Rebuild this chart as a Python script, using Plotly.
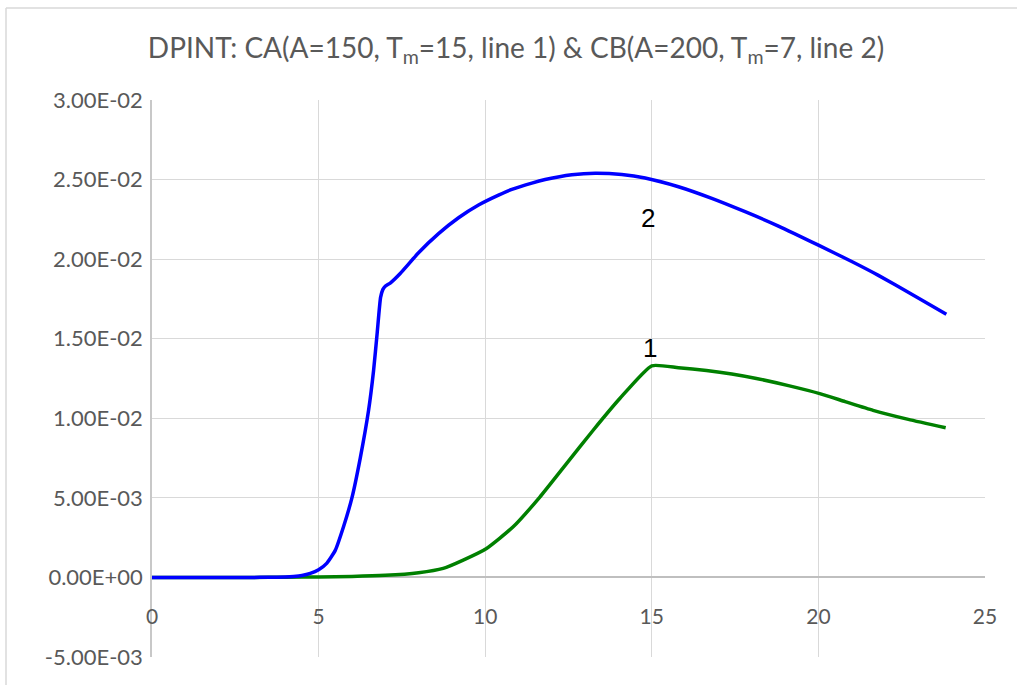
import plotly.graph_objects as go

# Line 2 (CB): time and DPINT values
t_cb = [0, 1, 2, 3, 3.5, 4, 4.25, 4.5, 4.75, 5.0, 5.25, 5.5, 5.75, 6.0, 6.25, 6.5,
        6.65, 6.76, 6.86, 6.93, 7.0, 7.15, 7.45, 8.0, 8.6, 9.2, 9.8, 10.4, 10.8,
        11.4, 11.8, 12.6, 13.3, 14.1, 14.8, 15.8, 16.8, 17.8, 18.8, 20.0, 21.0,
        21.8, 22.8, 23.84]
dp_cb = [0, 0, 0, 0, 0.00001, 0.00003, 0.00006, 0.00012, 0.00025, 0.00048, 0.0009,
         0.0017, 0.0032, 0.0050, 0.0075, 0.0105, 0.0130, 0.0154, 0.0176, 0.0181,
         0.0183, 0.0185, 0.0191, 0.0204, 0.0216, 0.0226, 0.0234, 0.02402, 0.02438,
         0.02478, 0.0250, 0.0253, 0.0254, 0.02532, 0.0251, 0.02455, 0.02382,
         0.02298, 0.02208, 0.02088, 0.01985, 0.01898, 0.01780, 0.01654]

# Line 1 (CA): time and DPINT values
t_ca = [0, 1, 2, 3, 4, 5, 6, 7, 8, 8.74, 9.34, 10.04, 10.84, 11.64, 12.44, 13.24,
        14.04, 15.0, 15.8, 16.64, 17.4, 18.14, 19.1, 20.04, 20.8, 21.64, 22.7, 23.82]
dp_ca = [0, 0, 0, 0, 0.00001, 0.00003, 0.00006, 0.00013, 0.00030, 0.00057, 0.00109,
         0.00182, 0.00318, 0.00505, 0.00715, 0.00925, 0.01124, 0.0133, 0.01318,
         0.0130, 0.01278, 0.0125, 0.01205, 0.01155, 0.01105, 0.0105, 0.00993, 0.0094]

x_ticks = [0, 5, 10, 15, 20, 25]
y_ticks = [-0.005, 0, 0.005, 0.01, 0.015, 0.02, 0.025, 0.03]
y_tick_text = ["-5.00E-03", "0.00E+00", "5.00E-03", "1.00E-02", "1.50E-02",
               "2.00E-02", "2.50E-02", "3.00E-02"]

# curve labels: (x, y, text)
curve_labels = [(14.88, 0.02258, "2"), (14.96, 0.0144, "1")]

title_text = ("DPINT: CA(A=150, T<sub>m</sub>=15, line 1) &amp; "
              "CB(A=200, T<sub>m</sub>=7, line 2)")

gray = "#595959"
grid = "#D9D9D9"

fig = go.Figure()
fig.add_trace(go.Scatter(x=t_ca, y=dp_ca, mode="lines",
                         line=dict(color="#008000", width=3.5, shape="spline",
                                   smoothing=0.5), name="1"))
fig.add_trace(go.Scatter(x=t_cb, y=dp_cb, mode="lines",
                         line=dict(color="#0000FF", width=3.5, shape="spline",
                                   smoothing=0.5), name="2"))

for x, y, txt in curve_labels:
    fig.add_annotation(x=x, y=y, text=txt, showarrow=False,
                       font=dict(family="Liberation Sans, Arial", size=26, color="black"))

# outer chart frame (top and left edges)
frame_left = (6 - 152) / 833
frame_top = (657 - 8) / 557
fig.add_shape(type="line", xref="paper", yref="paper",
              x0=frame_left, x1=1.2, y0=frame_top, y1=frame_top,
              line=dict(color=grid, width=1.5))
fig.add_shape(type="line", xref="paper", yref="paper",
              x0=frame_left, x1=frame_left, y0=frame_top, y1=-0.2,
              line=dict(color=grid, width=1.5))

fig.update_layout(
    width=1017, height=685,
    margin=dict(l=152, r=32, t=100, b=28),
    paper_bgcolor="white", plot_bgcolor="white",
    showlegend=False,
    title=dict(text=title_text, x=516 / 1017, xanchor="center",
               y=1 - 48 / 685, yanchor="middle",
               font=dict(family="Lato", size=28, color=gray)),
    xaxis=dict(range=[0, 25], tickvals=x_ticks, showgrid=True, gridcolor=grid,
               gridwidth=1.3, zeroline=False, showline=False,
               anchor="free", position=80 / 557,
               ticks="", ticklabelstandoff=25,
               tickfont=dict(family="Lato", size=21, color=gray)),
    yaxis=dict(range=[-0.005, 0.03], tickvals=y_ticks, ticktext=y_tick_text,
               showgrid=True, gridcolor=grid, gridwidth=1.3,
               zeroline=True, zerolinecolor="#BFBFBF", zerolinewidth=2,
               showline=True, linecolor="#C8C8C8", linewidth=1.5,
               ticks="", ticklabelstandoff=3,
               tickfont=dict(family="Lato", size=22, color=gray)),
)

fig.write_html("out.html")
